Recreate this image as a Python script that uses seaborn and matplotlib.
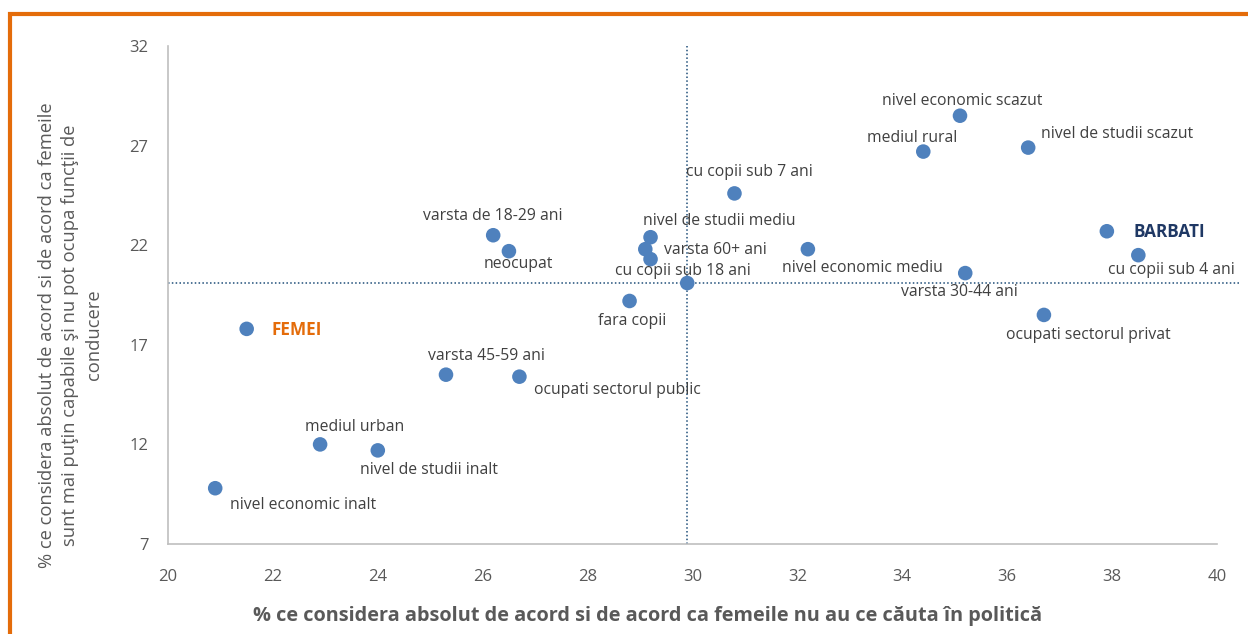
import matplotlib
matplotlib.use("Agg")
import matplotlib.pyplot as plt
import matplotlib.patches as mpatches
import seaborn as sns
import pandas as pd

# group names and their two percentages
groups = [
    "nivel economic scazut", "mediul rural", "nivel de studii scazut",
    "cu copii sub 7 ani", "varsta de 18-29 ani", "neocupat",
    "nivel de studii mediu", "varsta 60+ ani", "cu copii sub 18 ani",
    "nivel economic mediu", "varsta 30-44 ani", "fara copii",
    "BARBATI", "cu copii sub 4 ani", "ocupati sectorul privat",
    "FEMEI", "varsta 45-59 ani", "ocupati sectorul public",
    "mediul urban", "nivel de studii inalt", "nivel economic inalt",
    "Total",
]
pct_politics = [35.1, 34.4, 36.4, 30.8, 26.2, 26.5, 29.2, 29.1, 29.2, 32.2, 35.2,
                28.8, 37.9, 38.5, 36.7, 21.5, 25.3, 26.7, 22.9, 24.0, 20.9, 29.9]
pct_leadership = [28.5, 26.7, 26.9, 24.6, 22.5, 21.7, 22.4, 21.8, 21.3, 21.8, 20.6,
                  19.2, 22.7, 21.5, 18.5, 17.8, 15.5, 15.4, 12.0, 11.7, 9.8, 20.1]
total_x = 29.9
total_y = 20.1

x_ticks = [20, 22, 24, 26, 28, 30, 32, 34, 36, 38, 40]
y_ticks = [7, 12, 17, 22, 27, 32]

x_title = "% ce considera absolut de acord si de acord ca femeile nu au ce căuta în politică"
y_title = ("% ce considera absolut de acord si de acord ca femeile\n"
           "sunt mai puţin capabile şi nu pot ocupa funcţii de\n"
           "conducere")

# label offsets (pixels, text centre relative to point)
offsets = {
    "nivel economic scazut": (2, 15), "mediul rural": (-11, 14),
    "nivel de studii scazut": (89, 14), "cu copii sub 7 ani": (15, 21),
    "varsta de 18-29 ani": (0, 19), "neocupat": (9, -13),
    "nivel de studii mediu": (69, 16), "varsta 60+ ani": (70, -1),
    "cu copii sub 18 ani": (32, -12), "nivel economic mediu": (54, -19),
    "varsta 30-44 ani": (-6, -19), "fara copii": (3, -20),
    "BARBATI": (62, -1), "cu copii sub 4 ani": (33, -15),
    "ocupati sectorul privat": (44, -20), "FEMEI": (50, -1),
    "varsta 45-59 ani": (40, 19), "ocupati sectorul public": (98, -13),
    "mediul urban": (35, 17), "nivel de studii inalt": (51, -20),
    "nivel economic inalt": (88, -17),
}
special = {"BARBATI": "#1f3864", "FEMEI": "#e46c0a"}

df = pd.DataFrame({"grup": groups, "x": pct_politics, "y": pct_leadership})

sns.set_theme(style="white")
plt.rcParams["font.family"] = ["Open Sans", "DejaVu Sans"]

fig = plt.figure(figsize=(12.48, 6.34), dpi=100)
ax = fig.add_axes([168 / 1248, 1 - 544 / 634, (1217 - 168) / 1248, (544 - 46) / 634])

text_col = "#404040"
dot_col = "#4f81bd"
line_col = "#1f4e79"

ax.plot([total_x, total_x], [7, 32], linestyle=(0, (1, 1.5)), color=line_col, lw=1.1, zorder=1)
ax.plot([20, 40.45], [total_y, total_y], linestyle=(0, (1, 1.5)), color=line_col, lw=1.1,
        zorder=1, clip_on=False)

sns.scatterplot(data=df, x="x", y="y", ax=ax, color=dot_col, s=110, edgecolor="none",
                zorder=3, clip_on=False)

for name, xv, yv in zip(groups, pct_politics, pct_leadership):
    if name not in offsets:
        continue
    dx, dy = offsets[name]
    if name in special:
        ax.annotate(name, (xv, yv), xytext=(dx, dy), textcoords="offset pixels",
                    ha="center", va="center", fontsize=12.3, fontweight="bold",
                    color=special[name], annotation_clip=False)
    else:
        ax.annotate(name, (xv, yv), xytext=(dx, dy), textcoords="offset pixels",
                    ha="center", va="center", fontsize=11.3, color=text_col,
                    annotation_clip=False)

ax.set_xlim(20, 40)
ax.set_ylim(7, 32)
ax.set_xticks(x_ticks)
ax.set_yticks(y_ticks)
ax.tick_params(axis="both", colors="#595959", labelsize=12, length=0)
ax.tick_params(axis="x", pad=18)
ax.tick_params(axis="y", pad=14)
for side in ["top", "right"]:
    ax.spines[side].set_visible(False)
for side in ["left", "bottom"]:
    ax.spines[side].set_color("#bfbfbf")
    ax.spines[side].set_linewidth(1.2)

ax.set_xlabel(x_title, fontsize=14.3, fontweight="bold", color="#595959")
ax.xaxis.set_label_coords(0.457, -0.124)
ax.set_ylabel(y_title, fontsize=13.2, color="#595959", linespacing=1.4)
ax.yaxis.set_label_coords(-0.062, 0.42)

# orange frame around the chart
frame = mpatches.Rectangle((10 / 1248, -0.1), 1.2, 1.1 - 14 / 634, transform=fig.transFigure,
                           fill=False, edgecolor="#e46c0a", lw=3, clip_on=False)
fig.patches.append(frame)

fig.savefig("out.png", dpi=100)
